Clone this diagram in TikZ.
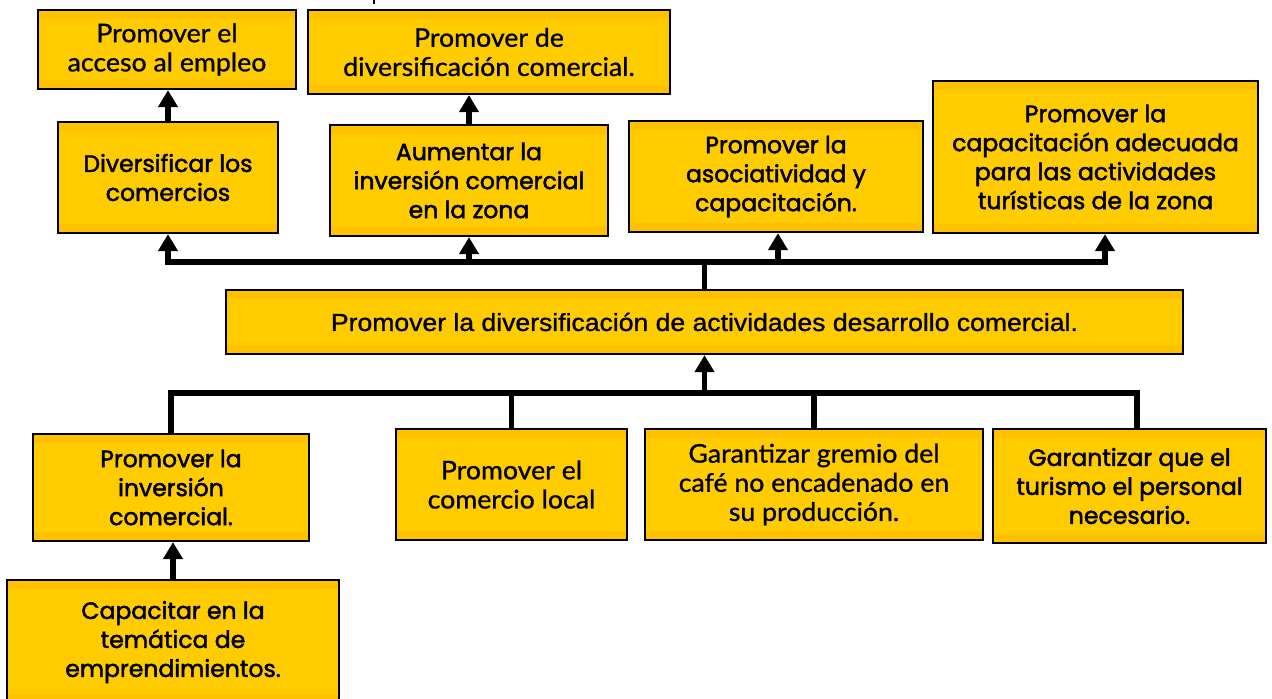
\documentclass[tikz,border=0pt]{standalone}
\usepackage{fontspec}
\setmainfont{Liberation Sans}
\newfontfamily\gothic{Poppins}[FakeBold=2]
\newfontfamily\twcen{Lato}[FakeBold=0.9,FakeStretch=1.04]
\newfontfamily\arialf{Liberation Sans}[FakeBold=1.1,FakeStretch=1.08]
\usetikzlibrary{arrows.meta,calc}
\definecolor{ycol}{HTML}{FFCC00}
\definecolor{bandcol}{HTML}{FFC000}
\tikzset{
  boxst/.style={draw=black, line width=1.3pt, fill=ycol, align=center, inner sep=0pt,
    path picture={
      \fill[bandcol] (path picture bounding box.north west) rectangle ([yshift=-0.18cm]path picture bounding box.north east);
      \fill[bandcol] (path picture bounding box.south west) rectangle ([yshift=0.18cm]path picture bounding box.south east);
    }},
  gt/.style={font=\gothic\fontsize{13.4pt}{16.5pt}\selectfont},
  tc/.style={font=\twcen\fontsize{14.6pt}{16.6pt}\selectfont},
  ar/.style={font=\arialf\fontsize{14pt}{16pt}\selectfont},
  ln/.style={line width=2.9pt, line join=miter, draw=black},
  arr/.style={ln, -{Triangle[length=0.34cm,width=0.38cm]}},
}
\newcommand\mybox[7]{\node[boxst,#7, minimum width={(#4-#2)*0.02cm}, minimum height={(#5-#3)*0.02cm}] (#1) at ({(#2+#4)/2},{(#3+#5)/2}) {#6};}
\begin{document}
\begin{tikzpicture}[x=0.02cm,y=-0.02cm]
\useasboundingbox (0,0) rectangle (1272,698);
\fill[white] (0,0) rectangle (1272,698);
\mybox{A1}{38}{10}{296}{89}{Promover el\\acceso al empleo}{tc}
\mybox{A2}{308}{10}{670}{94}{Promover de\\diversificación comercial.}{tc}
\mybox{B1}{58}{122}{278}{233}{Diversificar los\\comercios}{gt}
\mybox{B2}{330}{125}{608}{236}{Aumentar la\\inversión comercial\\en la zona}{gt}
\mybox{B3}{629}{121}{923}{232}{Promover la\\asociatividad y\\capacitación.}{gt}
\mybox{B4}{933}{81}{1258}{233}{Promover la\\capacitación adecuada\\para las actividades\\turísticas de la zona}{gt}
\mybox{M}{226}{290}{1183}{354}{Promover la diversificación de actividades desarrollo comercial.}{ar}
\mybox{C1}{33}{434}{309}{541}{Promover la\\inversión\\comercial.}{gt}
\mybox{C2}{396}{429}{627}{540}{Promover el\\comercio local}{tc}
\mybox{C3}{645}{429}{983}{540}{Garantizar gremio del\\café no encadenado en\\su producción.}{tc}
\mybox{C4}{993}{429}{1266}{543}{Garantizar que el\\turismo el personal\\necesario.}{gt}
\mybox{D}{7}{580}{339}{704}{Capacitar en la\\temática de\\emprendimientos.}{gt}
% stray mark at top
\draw[line width=0.9pt] (374,0) -- (374,4);
% top bus
\coordinate (tb) at (704.5,262);
\draw[ln] (M.north) -- (tb);
\draw[arr] (tb) -| (B1.south);
\draw[arr] (tb) -| (B2.south);
\draw[arr] (tb) -| ($(B3.south)+(2,0)$);
\draw[arr] (tb) -| ($(B4.south)+(9.5,0)$);
\draw[arr] (B1.north) -- (B1.north |- A1.south);
\draw[arr] (B2.north) -- (B2.north |- A2.south);
% bottom bus
\coordinate (bb) at (704.5,393);
\draw[arr] (bb) -- (M.south);
\draw[ln] (bb) -| (C1.north);
\draw[ln] (bb) -| (C2.north);
\draw[ln] (bb) -| (C3.north);
\draw[ln] (bb) -| ($(C4.north)+(7.5,0)$);
\draw[arr] (D.north) -- (D.north |- C1.south);
\end{tikzpicture}
\end{document}
